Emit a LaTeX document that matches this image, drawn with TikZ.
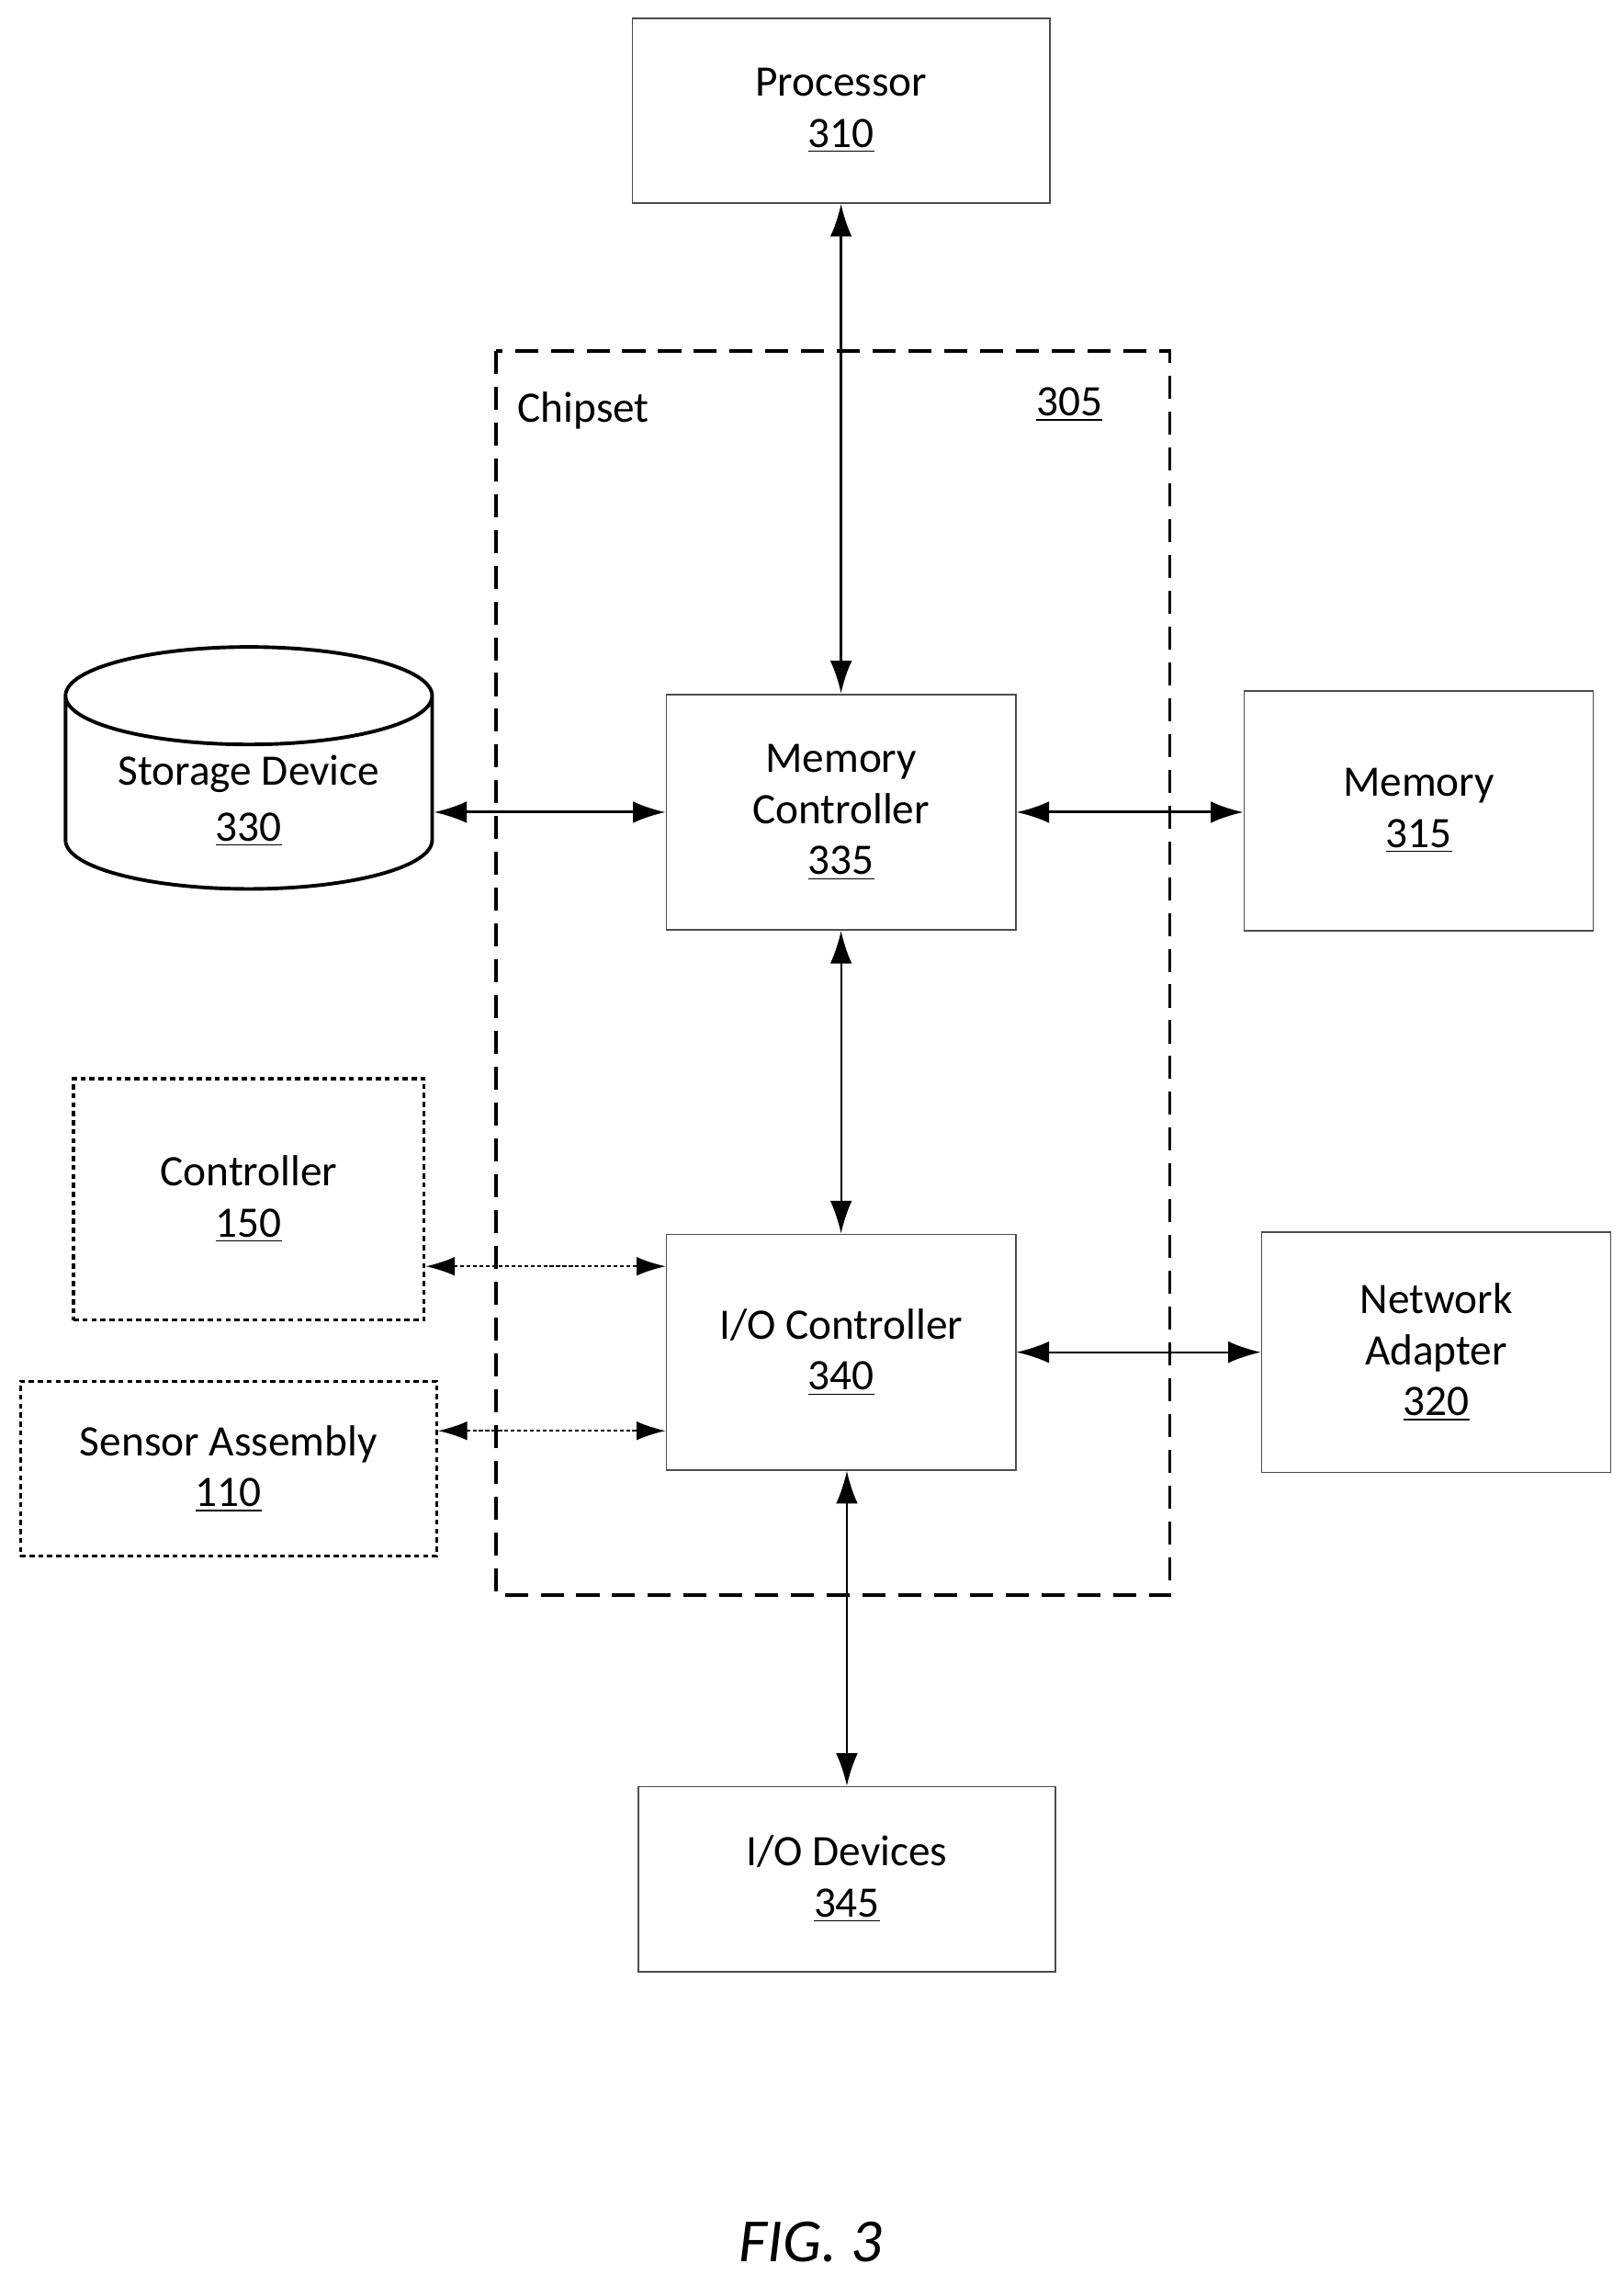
\documentclass[tikz,border=0pt]{standalone}
\usepackage{fontspec}
\setmainfont{Carlito}
\usetikzlibrary{shapes.geometric,arrows.meta,positioning}
\tikzset{
    % Block style
    block/.style={
        rectangle,
        draw=black!70,
        line width=0.6pt,
        align=center,
        font=\fontsize{17}{20}\selectfont
    },
    % Dotted block style
    extblock/.style={
        block,
        draw=black,
        dash pattern=on 2pt off 1.5pt,
        line width=1.2pt
    },
    % Arrow styles
    link/.style={
        {Latex[length=4.5mm,width=3mm]}-{Latex[length=4.5mm,width=3mm]},
        line width=1.1pt
    },
    dotlink/.style={
        {Latex[length=4mm,width=2.6mm]}-{Latex[length=4mm,width=2.6mm]},
        line width=0.7pt,
        dash pattern=on 1.5pt off 1pt
    }
}
\begin{document}
\begin{tikzpicture}[x=0.02cm,y=-0.02cm]
        \useasboundingbox (0,0) rectangle (1116,1563);

        % Chipset
        \draw[line width=1.3pt, dash pattern=on 9pt off 5pt] (341,241) rectangle (804,1096);
        \node[font=\fontsize{17}{20}\selectfont] (chipset) at (401,282) {Chipset};
        \node[font=\fontsize{17}{20}\selectfont] (chipsetnum) at (735,278) {\underline{305}};

        % Blocks
        \node[block, minimum width=5.74cm, minimum height=2.54cm] (proc) at (578,76) {Processor\\\underline{310}};
        \node[block, minimum width=4.8cm, minimum height=3.24cm] (memctrl) at (578,558) {Memory\\Controller\\\underline{335}};
        \node[block, minimum width=4.8cm, minimum height=3.3cm] (mem) at (975,557) {Memory\\\underline{315}};
        \node[block, minimum width=4.8cm, minimum height=3.24cm] (ioctrl) at (578,929) {I/O Controller\\\underline{340}};
        \node[block, minimum width=4.8cm, minimum height=3.3cm] (net) at (987,929) {Network\\Adapter\\\underline{320}};
        \node[block, minimum width=5.74cm, minimum height=2.54cm] (iodev) at (582,1291) {I/O Devices\\\underline{345}};

        % Storage
        \node[cylinder, shape border rotate=90, aspect=0.35, draw=black, line width=1.4pt,
              minimum width=5.04cm, minimum height=2.94cm, align=center,
              font=\fontsize{17}{20}\selectfont] (storage) at (171,550) {Storage Device\\[2pt]\underline{330}};

        % External blocks
        \node[extblock, minimum width=4.82cm, minimum height=3.32cm] (ctrl) at (171,824) {Controller\\\underline{150}};
        \node[extblock, minimum width=5.72cm, minimum height=2.4cm] (sensor) at (157,1009) {Sensor Assembly\\\underline{110}};

        % Connections
        \draw[link] (proc.south) -- (memctrl.north);
        \draw[link] (storage.east |- 0,558) -- (memctrl.west |- 0,558);
        \draw[link] (memctrl.east |- 0,558) -- (mem.west |- 0,558);
        \draw[link, line width=0.8pt] (memctrl.south) -- (ioctrl.north);
        \draw[link, line width=0.8pt] (ioctrl.east) -- (net.west);
        \draw[link, line width=0.8pt] (ioctrl.south -| iodev.north) -- (iodev.north);
        \draw[dotlink] (ctrl.east |- 0,870) -- (ioctrl.west |- 0,870);
        \draw[dotlink] (sensor.east |- 0,983) -- (ioctrl.west |- 0,983);

        % Caption
        \node[font=\fontsize{24}{28}\selectfont\itshape] (fig) at (557,1540) {FIG. 3};
\end{tikzpicture}
\end{document}
